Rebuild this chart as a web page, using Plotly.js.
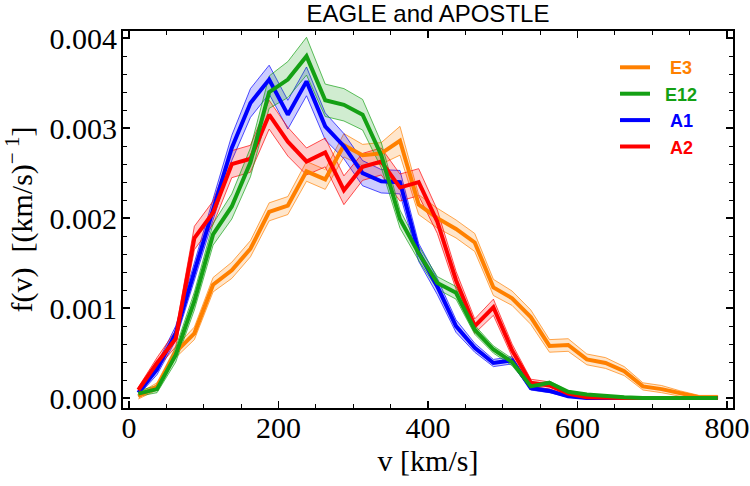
<!DOCTYPE html>
<html>
<head>
<meta charset="utf-8">
<script src="https://cdn.plot.ly/plotly-3.0.1.min.js"></script>
<style>
  html, body { margin: 0; padding: 0; background: #ffffff; }
  #chart { width: 750px; height: 486px; }
</style>
</head>
<body>
<div id="chart"></div>
<script>
// Speed bins (bin centres, km/s)
const v = [12.5, 37.5, 62.5, 87.5, 112.5, 137.5, 162.5, 187.5, 212.5, 237.5,
           262.5, 287.5, 312.5, 337.5, 362.5, 387.5, 412.5, 437.5, 462.5, 487.5,
           512.5, 537.5, 562.5, 587.5, 612.5, 637.5, 662.5, 687.5, 712.5, 737.5,
           762.5, 787.5];

// Speed distributions f(v) [(km/s)^-1]
const E3 = [0.00002, 0.00013, 0.00051, 0.00072, 0.00126, 0.00142, 0.00166, 0.00207, 0.00214, 0.00252,
            0.00243, 0.00281, 0.00270, 0.00272, 0.00286, 0.00215, 0.00200, 0.00188, 0.00173, 0.00123,
            0.00111, 0.00090, 0.00058, 0.00059, 0.00043, 0.00039, 0.00030, 0.00013, 0.00010, 0.00005,
            0.00001, 0.00001];
const E12 = [0.00005, 0.00010, 0.00048, 0.00108, 0.00182, 0.00213, 0.00262, 0.00340, 0.00354, 0.00380,
             0.00331, 0.00326, 0.00315, 0.00270, 0.00199, 0.00161, 0.00128, 0.00117, 0.00076, 0.00054,
             0.00040, 0.00013, 0.00017, 0.00007, 0.00004, 0.00002, 0.00001, 0.00000, 0.00000, 0.00000,
             0.00000, 0.00000];
const A1 = [0.00006, 0.00032, 0.00072, 0.00141, 0.00210, 0.00278, 0.00328, 0.00354, 0.00315, 0.00352,
            0.00302, 0.00280, 0.00250, 0.00241, 0.00240, 0.00162, 0.00124, 0.00080, 0.00056, 0.00039,
            0.00042, 0.00011, 0.00008, 0.00002, 0.00000, 0.00000, 0.00000, 0.00000, 0.00000, 0.00000,
            0.00000, 0.00000];
const A2 = [0.00009, 0.00039, 0.00066, 0.00178, 0.00206, 0.00260, 0.00266, 0.00315, 0.00285, 0.00263,
            0.00273, 0.00231, 0.00257, 0.00263, 0.00234, 0.00240, 0.00196, 0.00131, 0.00080, 0.00101,
            0.00053, 0.00017, 0.00014, 0.00005, 0.00001, 0.00000, 0.00000, 0.00000, 0.00000, 0.00000,
            0.00000, 0.00000];

// One-sigma half-widths of the shaded bands
const E3err = [0.00003, 0.00004, 0.00006, 0.00007, 0.00008, 0.00009, 0.00009, 0.00010, 0.00010, 0.00011,
               0.00011, 0.00013, 0.00012, 0.00012, 0.00016, 0.00011, 0.00011, 0.00010, 0.00010, 0.00009,
               0.00008, 0.00008, 0.00007, 0.00007, 0.00006, 0.00006, 0.00005, 0.00004, 0.00004, 0.00003,
               0.00002, 0.00002];
const E12err = [0.00003, 0.00004, 0.00008, 0.00010, 0.00012, 0.00014, 0.00016, 0.00018, 0.00020, 0.00021,
                0.00018, 0.00018, 0.00017, 0.00014, 0.00010, 0.00008, 0.00007, 0.00007, 0.00005, 0.00004,
                0.00004, 0.00002, 0.00002, 0.00001, 0.00001, 0.00001, 0.00000, 0.00000, 0.00000, 0.00000,
                0.00000, 0.00000];
const A1err = [0.00003, 0.00006, 0.00008, 0.00010, 0.00012, 0.00014, 0.00016, 0.00016, 0.00016, 0.00016,
               0.00015, 0.00014, 0.00014, 0.00013, 0.00013, 0.00010, 0.00009, 0.00007, 0.00005, 0.00004,
               0.00004, 0.00002, 0.00002, 0.00001, 0.00001, 0.00000, 0.00000, 0.00000, 0.00000, 0.00000,
               0.00000, 0.00000];
const A2err = [0.00003, 0.00006, 0.00009, 0.00013, 0.00013, 0.00015, 0.00015, 0.00016, 0.00016, 0.00015,
               0.00016, 0.00016, 0.00015, 0.00015, 0.00015, 0.00015, 0.00013, 0.00010, 0.00008, 0.00009,
               0.00007, 0.00004, 0.00004, 0.00002, 0.00001, 0.00000, 0.00000, 0.00000, 0.00000, 0.00000,
               0.00000, 0.00000];

// drawing order: orange, blue, red, green on top; rank sets the legend order
const series = [
  { name: 'E3',  y: E3,  err: E3err,  rgb: [255, 128, 0],  rank: 1 },
  { name: 'A1',  y: A1,  err: A1err,  rgb: [0, 0, 255],    rank: 3 },
  { name: 'A2',  y: A2,  err: A2err,  rgb: [255, 0, 0],    rank: 4 },
  { name: 'E12', y: E12, err: E12err, rgb: [20, 160, 20],  rank: 2 }
];

// leading non-breaking spaces roughly centre each label in the legend column
const pad = { E3: '\u00a0\u00a0\u00a0', E12: '\u00a0\u00a0', A1: '\u00a0\u00a0\u00a0', A2: '\u00a0\u00a0\u00a0' };

const rgba = (c, a) => `rgba(${c[0]},${c[1]},${c[2]},${a})`;

const bands = series.map(s => {
  const upper = s.y.map((f, i) => f + s.err[i]);
  const lower = s.y.map((f, i) => f - s.err[i]);
  return {
    x: v.concat(v.slice().reverse()),
    y: upper.concat(lower.slice().reverse()),
    type: 'scatter',
    mode: 'lines',
    fill: 'toself',
    fillcolor: rgba(s.rgb, 0.2),
    line: { color: rgba(s.rgb, 0.85), width: 0.8 },
    hoverinfo: 'skip',
    showlegend: false
  };
});

const lines = series.map(s => ({
  x: v,
  y: s.y,
  type: 'scatter',
  mode: 'lines',
  name: `<b>${pad[s.name]}<span style="color:${rgba(s.rgb, 1)}">${s.name}</span></b>`,
  legendrank: s.rank,
  line: { color: rgba(s.rgb, 1), width: 4 }
}));

const serif = 'Liberation Serif, Times New Roman, serif';
const sans = 'Liberation Sans, Arial, sans-serif';

const axisCommon = {
  showline: true,
  linecolor: '#000',
  linewidth: 2,
  mirror: 'ticks',
  ticks: 'inside',
  ticklen: 7,
  tickwidth: 1.5,
  tickcolor: '#000',
  showgrid: false,
  zeroline: false,
  tickfont: { family: serif, size: 30, color: '#000' }
};

const layout = {
  width: 750,
  height: 486,
  margin: { l: 123, r: 17, t: 31, b: 78, pad: 0 },
  paper_bgcolor: '#ffffff',
  plot_bgcolor: '#ffffff',
  title: {
    text: 'EAGLE and APOSTLE',
    font: { family: sans, size: 24, color: '#000' },
    x: 0.5, xref: 'paper', xanchor: 'center',
    y: 0.973, yref: 'container', yanchor: 'middle'
  },
  xaxis: Object.assign({}, axisCommon, {
    range: [-8, 808],
    tick0: 0,
    dtick: 200,
    ticklabelstandoff: -8,
    minor: { dtick: 50, ticks: 'inside', ticklen: 4, tickwidth: 1.2, tickcolor: '#000' },
    title: { text: 'v [km/s]', font: { family: serif, size: 30, color: '#000' }, standoff: 6 }
  }),
  yaxis: Object.assign({}, axisCommon, {
    range: [-0.00011, 0.00408],
    tick0: 0,
    dtick: 0.001,
    tickformat: '.3f',
    ticklabelstandoff: -2,
    minor: { dtick: 0.0002, ticks: 'inside', ticklen: 4, tickwidth: 1.2, tickcolor: '#000' },
    title: { text: 'f(v)\u00a0\u00a0[(km/s)<sup>\u2212\u00a01</sup>]', font: { family: serif, size: 30, color: '#000' }, standoff: 10 }
  }),
  legend: {
    x: 0.8066, xanchor: 'left', xref: 'paper',
    y: 0.952, yanchor: 'top', yref: 'paper',
    bgcolor: 'rgba(0,0,0,0)',
    borderwidth: 0,
    itemwidth: 30,
    tracegroupgap: 0,
    font: { family: sans, size: 18, color: '#000' }
  },
  showlegend: true
};

Plotly.newPlot('chart', bands.concat(lines), layout, { displayModeBar: false, staticPlot: true });
</script>
</body>
</html>
